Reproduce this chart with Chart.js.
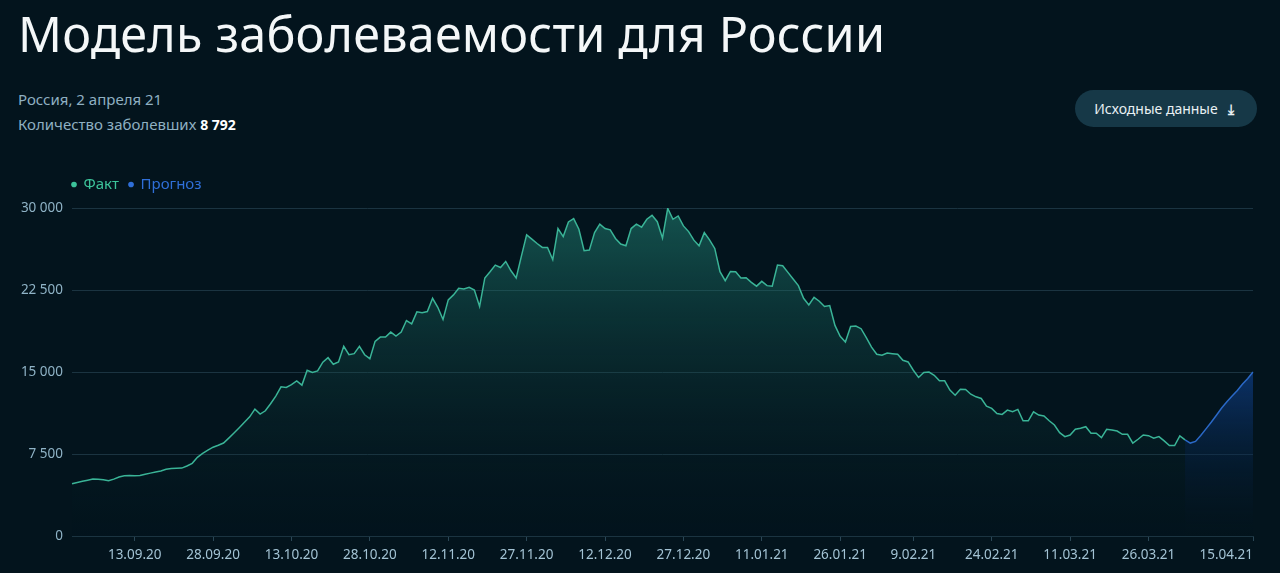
<!DOCTYPE html>
<html lang="ru">
<head>
<meta charset="utf-8">
<script src="https://cdn.jsdelivr.net/npm/chart.js@4.4.1/dist/chart.umd.min.js"></script>
<style>
  html, body { margin: 0; padding: 0; }
  body {
    width: 1280px; height: 573px; overflow: hidden; position: relative;
    background: #03141d; font-family: "Noto Sans", sans-serif; color: #fff;
  }
  h1 {
    position: absolute; left: 18px; top: 1px; margin: 0;
    font-family: "Noto Sans", sans-serif; font-weight: 400; font-size: 48.5px;
    line-height: 64px; color: #f4f7f8; letter-spacing: 0.2px;
  }
  .meta { position: absolute; left: 18px; top: 87px; font-size: 15px; line-height: 25px; color: #8fb0c2; }
  .meta b { color: #ffffff; font-weight: 700; font-size: 14px; }
  .btn {
    position: absolute; left: 1075px; top: 90px; width: 182px; height: 37px;
    border-radius: 19px; background: #163847; color: #e9f1f4;
    font-size: 14px; line-height: 37px; text-align: center; box-sizing: border-box; padding-right: 4px;
  }
  .btn span { display: inline-block; margin-left: 10px; font-weight: 700; }
  .wrap { position: absolute; left: 0; top: 160px; width: 1280px; height: 413px; }
</style>
</head>
<body>
<h1>Модель заболеваемости для России</h1>
<div class="meta">Россия, 2 апреля 21<br>Количество заболевших <b>8 792</b></div>
<div class="btn">Исходные данные<span>&#10515;</span></div>
<div class="wrap"><canvas id="graphic"></canvas></div>
<script>
// daily new cases, 1.09.20 .. 2.04.21
var factValues = [
  4780, 4900, 5000, 5100, 5210, 5180, 5140, 5050, 5200, 5400,
  5520, 5530, 5520, 5540, 5640, 5750, 5850, 5950, 6100, 6170,
  6200, 6210, 6400, 6650, 7200, 7550, 7850, 8120, 8300, 8500,
  8950, 9420, 9900, 10400, 10900, 11600, 11150, 11450, 12100, 12800,
  13640, 13580, 13850, 14190, 13800, 15160, 14950, 15100, 15900, 16310,
  15710, 15920, 17350, 16590, 16680, 17350, 16580, 16220, 17800, 18190,
  18190, 18650, 18290, 18650, 19710, 19410, 20500, 20410, 20530, 21740,
  20920, 19800, 21600, 22050, 22650, 22600, 22750, 22500, 20990, 23600,
  24170, 24780, 24560, 25110, 24260, 23600, 25600, 27540, 27150, 26750,
  26390, 26390, 25270, 28120, 27390, 28730, 29030, 28060, 26090, 26150,
  27750, 28520, 28120, 28000, 27210, 26700, 26540, 28120, 28520, 28240,
  28970, 29330, 28750, 27240, 29970, 28970, 29270, 28360, 27840, 27060,
  26540, 27750, 27090, 26300, 24170, 23350, 24200, 24170, 23600, 23630,
  23200, 22850, 23290, 22900, 22840, 24780, 24720, 24110, 23510, 22900,
  21740, 21140, 21830, 21470, 20990, 21080, 19260, 18260, 17740, 19170,
  19200, 18960, 18140, 17280, 16620, 16530, 16740, 16680, 16620, 16070,
  15920, 15160, 14500, 14950, 15000, 14700, 14190, 14190, 13340, 12880,
  13430, 13400, 12970, 12730, 12580, 11880, 11670, 11210, 11120, 11510,
  11360, 11580, 10540, 10540, 11360, 11060, 10970, 10540, 10150, 9450,
  9090, 9240, 9760, 9850, 10000, 9400, 9400, 9000, 9760, 9700,
  9600, 9300, 9300, 8490, 8850, 9240, 9180, 8940, 9090, 8700,
  8270, 8270, 9150, 8792
];
// forecast, 2.04.21 .. 15.04.21
var forecastValues = [8792, 8500, 8650, 9200, 9800, 10400, 11050, 11700, 12270, 12800, 13300, 13900, 14400, 15000];
var tickLabels = ['13.09.20', '28.09.20', '13.10.20', '28.10.20', '12.11.20', '27.11.20', '12.12.20', '27.12.20',
  '11.01.21', '26.01.21', '9.02.21', '24.02.21', '11.03.21', '26.03.21', '15.04.21'];
var yTicks = [0, 7500, 15000, 22500, 30000];

var dayCount = factValues.length - 1 + forecastValues.length;
var dates = [];
for (var i = 0; i < dayCount; i++) {
  var d = new Date(2020, 8, 1 + i);
  dates.push(d.getDate() + '.' + String(d.getMonth() + 1).padStart(2, '0') + '.' + String(d.getFullYear()).slice(2));
}
var forecastData = new Array(factValues.length - 1).fill(null).concat(forecastValues);

function areaFill(stops) {
  return function (context) {
    var area = context.chart.chartArea;
    if (!area) return stops[0][1];
    var g = context.chart.ctx.createLinearGradient(0, area.top, 0, area.bottom);
    stops.forEach(function (s) { g.addColorStop(s[0], s[1]); });
    return g;
  };
}

// nudge the legend so it sits over the plot's left edge, like the original
var legendNudge = {
  id: 'legendNudge',
  afterLayout: function (chart) {
    var lg = chart.legend;
    lg.left -= 10; lg.right -= 10;
    lg.top -= 6; lg.bottom -= 6;
  }
};

var ctx = document.getElementById('graphic').getContext('2d');
var graphic = new Chart(ctx, {
  type: 'line',
  data: {
    labels: dates,
    datasets: [{
      label: 'Факт',
      data: factValues,
      borderColor: '#3ab497',
      legendColor: '#3cc39a',
      backgroundColor: areaFill([[0, 'rgba(38,145,128,0.5)'], [1, 'rgba(3,20,29,0.05)']]),
      borderWidth: 1.5,
      fill: 'origin',
      pointRadius: 0,
      tension: 0
    }, {
      label: 'Прогноз',
      data: forecastData,
      borderColor: '#2a68c6',
      legendColor: '#2f6fd8',
      backgroundColor: areaFill([[0, 'rgba(24,90,190,0.95)'], [0.5, 'rgba(14,60,130,0.75)'], [1, 'rgba(3,20,29,0.1)']]),
      borderWidth: 1.5,
      fill: 'origin',
      pointRadius: 0,
      tension: 0
    }]
  },
  plugins: [legendNudge],
  options: {
    responsive: true,
    maintainAspectRatio: false,
    animation: false,
    layout: { padding: { left: 0, right: 27, top: 13, bottom: 0 } },
    plugins: {
      tooltip: { enabled: false },
      legend: {
        position: 'top',
        align: 'start',
        fullSize: false,
        labels: {
          usePointStyle: true,
          pointStyle: 'circle',
          boxWidth: 4,
          boxHeight: 4,
          padding: 10,
          font: { family: 'Noto Sans', size: 15 },
          generateLabels: function (chart) {
            return chart.data.datasets.map(function (ds, i) {
              return {
                text: ds.label, fillStyle: ds.legendColor, strokeStyle: ds.legendColor,
                fontColor: ds.legendColor, lineWidth: 0, pointStyle: 'circle', datasetIndex: i, hidden: false
              };
            });
          }
        }
      }
    },
    scales: {
      x: {
        type: 'category',
        afterBuildTicks: function (scale) {
          scale.ticks = scale.ticks.filter(function (t) {
            return t.value === 0 || tickLabels.indexOf(dates[t.value]) !== -1;
          });
        },
        afterFit: function (scale) { scale.height = 37; },
        grid: {
          drawOnChartArea: false, drawTicks: true, tickLength: 5, color: '#2b4756',
          tickColor: function (c) { return c.tick && c.tick.value === 0 ? 'rgba(0,0,0,0)' : '#2b4756'; }
        },
        border: { display: true, color: '#1b3441' },
        ticks: {
          autoSkip: false, maxRotation: 0, padding: 6, align: 'inner', color: '#a3c3d4',
          font: { family: 'Noto Sans', size: 13.5 },
          callback: function (v) { return tickLabels.indexOf(dates[v]) !== -1 ? dates[v] : ''; }
        }
      },
      y: {
        min: 0,
        max: 30000,
        afterBuildTicks: function (scale) { scale.ticks = yTicks.map(function (v) { return { value: v }; }); },
        afterFit: function (scale) { scale.width = 72; },
        grid: { drawTicks: false, color: '#1b3441' },
        border: { display: false },
        ticks: {
          padding: 9, color: '#8fb3c6',
          font: { family: 'Noto Sans', size: 13.5 },
          callback: function (v) { return String(v).replace(/\B(?=(\d{3})+(?!\d))/g, ' '); }
        }
      }
    }
  }
});
</script>
</body>
</html>
